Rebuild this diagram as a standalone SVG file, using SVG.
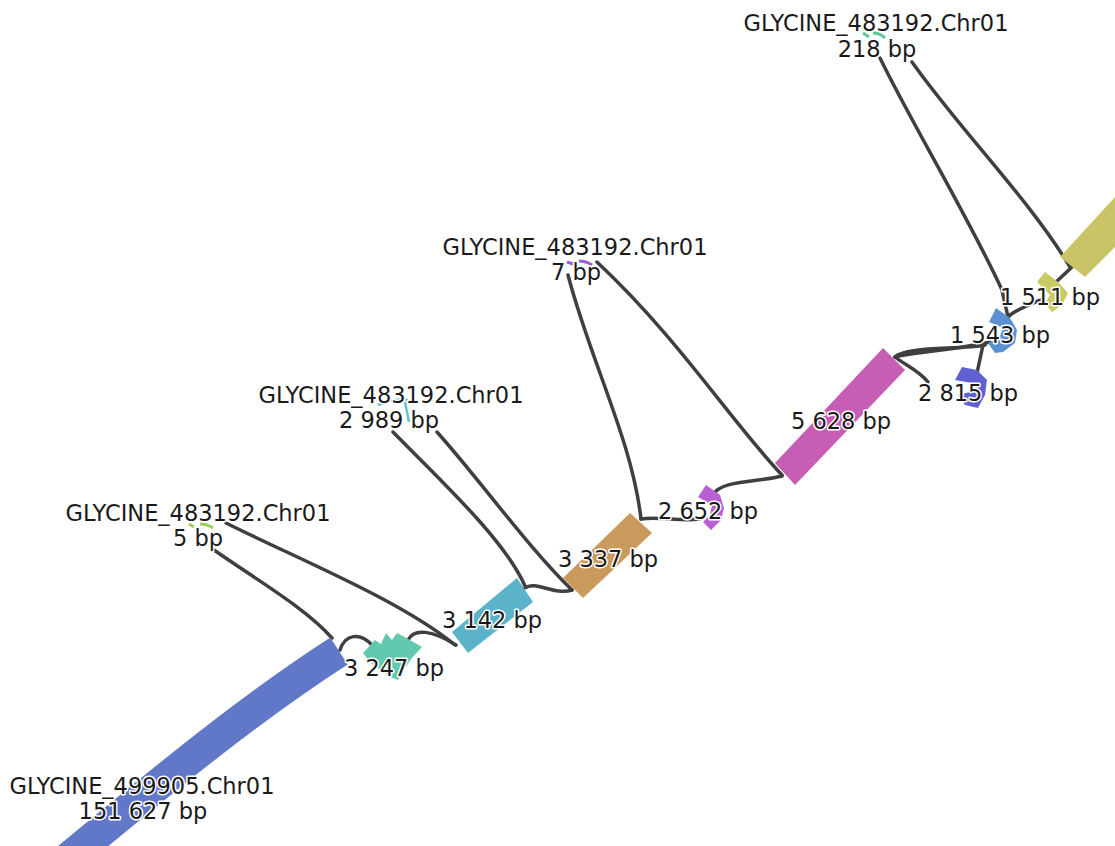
<svg xmlns="http://www.w3.org/2000/svg" width="1115" height="846" viewBox="0 0 1115 846">
<style>
.e{fill:none;stroke:#3f3f3f;stroke-width:3.5;stroke-linecap:round}
.t{font-family:"DejaVu Sans",Verdana,sans-serif;font-size:22.5px;fill:#1a1a1a;stroke:#fff;stroke-width:3;stroke-linejoin:round;paint-order:stroke;text-anchor:middle}
</style>
<rect width="1115" height="846" fill="#fff"/>
<g id="edges">
<path class="e" d="M214 550 C260 582 305 608 332 638"/>
<path class="e" d="M226 523 C300 560 400 600 455 645"/>
<path class="e" d="M340 650 C345 634 360 632 372 645"/>
<path class="e" d="M408 640 C414 628 432 630 456 645"/>
<path class="e" d="M393 432 C440 480 505 540 525 586"/>
<path class="e" d="M437 432 C480 480 530 550 572 590"/>
<path class="e" d="M525 588 C535 580 555 596 572 590"/>
<path class="e" d="M568 275 C590 360 632 440 641 519"/>
<path class="e" d="M641 519 C660 516 680 522 700 519"/>
<path class="e" d="M597 262 C680 340 730 420 782 475"/>
<path class="e" d="M713 495 C720 480 760 482 782 476"/>
<path class="e" d="M895 357 C905 346 960 350 985 345"/>
<path class="e" d="M895 357 C910 353 960 349 990 342"/>
<path class="e" d="M895 357 C905 365 918 370 928 382"/>
<path class="e" d="M977 373 L983 345"/>
<path class="e" d="M880 58 C910 120 970 220 1002 290 L1008 317"/>
<path class="e" d="M1008 317 C1015 310 1028 305 1040 300"/>
<path class="e" d="M912 62 C960 130 1030 200 1070 267"/>
<path class="e" d="M1055 283 L1072 267"/>
</g>
<g id="n151627"><path d="M42 880 C130 808 232 720 339 651" fill="none" stroke="#6178c9" stroke-width="32"/></g>
<g id="n3247"><polygon points="363,653 375,640 381,644 386,633 392,640 397,633 410,640 422,647 412,658 405,668 398,680 388,676 378,668 370,662" fill="#62c9b0"/></g>
<g id="n3142"><polygon points="517,578 533,602 468,653 452,632" fill="#5bb3c9"/></g>
<g id="n3337"><polygon points="630,513 652,533 583,598 563,578" fill="#c99a5b"/></g>
<g id="n2652"><polygon points="706,485 720,495 724,508 721,520 711,530 703,522 710,515 712,505 698,497" fill="#b85fd1"/></g>
<g id="n5628"><polygon points="883,348 905,370 795,485 775,463" fill="#c75db4"/></g>
<g id="n1543"><polygon points="996,308 1010,318 1017,330 1015,343 1003,352 995,353 988,343 1000,336 1003,328 989,322" fill="#5b91d0"/></g>
<g id="n2815"><polygon points="962,367 977,370 987,380 985,395 978,408 965,405 958,395 970,392 972,383 955,380" fill="#6060d0"/></g>
<g id="n1511"><polygon points="1045,272 1058,282 1068,293 1062,305 1052,312 1045,303 1050,295 1037,282" fill="#c9c965"/></g>
<g id="nOlive"><polygon points="1060,257 1125,186 1125,237 1085,277" fill="#c9c566"/></g>
<g id="n7" fill="none" stroke="#9b5fd1" stroke-width="3"><path d="M567 262 L573 264 M579 261 Q586 261 592 265"/></g>
<g id="n5" fill="none" stroke="#9dcf5c" stroke-width="3"><path d="M189 524 L194 527 M200 524 Q207 524 213 528"/></g>
<g id="n2989" fill="none" stroke="#5cc9c9" stroke-width="2.5"><path d="M378 405 Q395 398 408 400 M405 402 L409 422"/></g>
<g id="n218" fill="none" stroke="#5cc99a" stroke-width="3"><path d="M863 33 L869 37 M873 33 Q880 33 885 38"/></g>
<g id="labels">
<text class="t" x="876" y="31">GLYCINE_483192.Chr01</text>
<text class="t" x="877" y="57">218 bp</text>
<text class="t" x="575" y="255">GLYCINE_483192.Chr01</text>
<text class="t" x="576" y="280">7 bp</text>
<text class="t" x="391" y="403">GLYCINE_483192.Chr01</text>
<text class="t" x="389" y="428">2 989 bp</text>
<text class="t" x="198" y="521">GLYCINE_483192.Chr01</text>
<text class="t" x="198" y="546">5 bp</text>
<text class="t" x="142" y="794">GLYCINE_499905.Chr01</text>
<text class="t" x="143" y="819">151 627 bp</text>
<text class="t" x="394" y="676">3 247 bp</text>
<text class="t" x="492" y="628">3 142 bp</text>
<text class="t" x="608" y="567">3 337 bp</text>
<text class="t" x="708" y="519">2 652 bp</text>
<text class="t" x="841" y="429">5 628 bp</text>
<text class="t" x="968" y="401">2 815 bp</text>
<text class="t" x="1000" y="343">1 543 bp</text>
<text class="t" x="1050" y="305">1 511 bp</text>
</g>
</svg>
